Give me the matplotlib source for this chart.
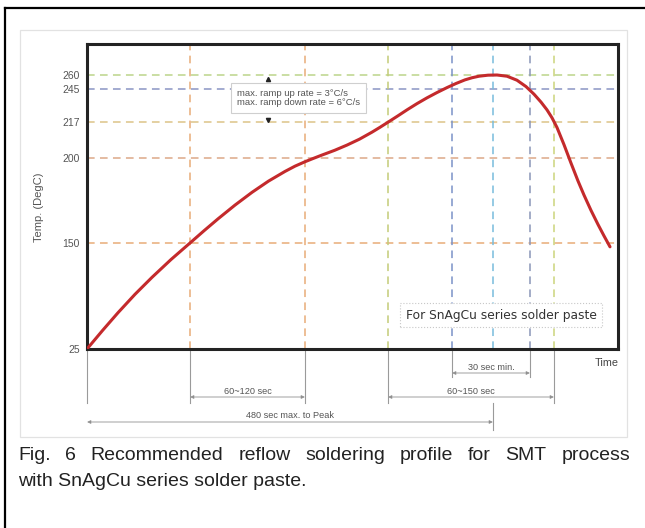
import numpy as np
import matplotlib
matplotlib.use('Agg')
import matplotlib.pyplot as plt
from matplotlib.lines import Line2D
from matplotlib.patches import Rectangle
from matplotlib import transforms

# temperature axis (schematic, not linear) : tick values and where they sit
tick_temps = [25, 150, 200, 217, 245, 260]
scale_t = [25, 150, 200, 217, 245, 260, 300]
scale_p = [0, 106, 191, 227, 260, 274, 311]

# reflow profile (time in arbitrary units, temp in degC)
time_pts = [0, 15.5, 31, 48, 65, 84, 103, 117, 131, 148, 165, 181.5, 198, 208, 218,
            226.5, 235, 247.5, 260, 272.5, 285, 293, 301, 310.5, 320, 330, 340, 350,
            360, 369, 378, 385, 392, 401, 410, 420, 430, 439, 447, 454, 460, 465, 470,
            477, 484, 491, 497, 504, 511, 517, 523]
temp_pts = [25, 46.8, 67.8, 89.5, 109.5, 130.5, 150, 157.2, 164.2, 172.3, 179.8, 186.4,
            192.1, 195.2, 197.8, 199.8, 201.4, 203.6, 206.1, 208.9, 212.2, 214.5, 216.9,
            222.0, 227.3, 232.6, 237.5, 242.0, 246.5, 250.9, 254.8, 257.05, 258.7, 259.8,
            260, 258.7, 254.4, 247.6, 240.6, 233.9, 227.3, 220.6, 214.4, 206.3, 197.0,
            186.5, 178.2, 169.2, 160.9, 154.2, 145.5]

# dashed guide lines
h_temps = [260, 245, 217, 200, 150]
h_colors = ['#bcd48a', '#8a94c4', '#dcc488', '#dca888', '#e8ac78']
v_times = [103, 218, 301, 365, 406, 443, 467]
v_colors = ['#e8ac78', '#e8ac78', '#c4cc78', '#7a92c8', '#78bcdc', '#8a96b8', '#ccd47c']

# brackets under the time axis
brackets = [(365, 443, '30 sec min.'), (103, 218, '60~120 sec'),
            (301, 467, '60~150 sec'), (0, 406, '480 sec max. to Peak')]

caption1 = 'Fig. 6 Recommended reflow soldering profile for SMT process'
caption2 = 'with SnAgCu series solder paste.'

W, H = 645, 528
fig = plt.figure(figsize=(W / 100, H / 100), dpi=100)
fig.patch.set_facecolor('white')


def fx(px):
    return px / W


def fy(py):
    return 1 - py / H


# frames
fig.add_artist(Line2D([fx(5), fx(5)], [fy(8), 0], color='black', lw=1.6))
fig.add_artist(Line2D([fx(5), 1], [fy(8), fy(8)], color='black', lw=1.6))
fig.add_artist(Rectangle((fx(20), fy(437)), fx(627) - fx(20), fy(30) - fy(437),
                         transform=fig.transFigure, fill=False, ec='#e2e2e2', lw=0.9))

ax = fig.add_axes([fx(87), fy(349), fx(618) - fx(87), fy(44) - fy(349)])


def fwd(t):
    return np.interp(t, scale_t, scale_p)


def inv(p):
    return np.interp(p, scale_p, scale_t)


ax.set_yscale('function', functions=(fwd, inv))
ax.set_xlim(0, 531)
ax.set_ylim(25, inv(305))

for t, c in zip(h_temps, h_colors):
    ax.axhline(t, color=c, lw=1.1, ls=(0, (5, 3.5)), zorder=1)
for x, c in zip(v_times, v_colors):
    ax.axvline(x, color=c, lw=1.1, ls=(0, (5, 3.5)), zorder=1)

ax.plot(time_pts, temp_pts, color='#c42a2c', lw=2.2, solid_capstyle='round',
        solid_joinstyle='round', zorder=3)

# little ramp markers
ax.plot([181], [255.7], marker='^', ms=3, color='#222', zorder=4)
ax.plot([181], [218.6], marker='v', ms=3, color='#222', zorder=4)

ax.set_yticks(tick_temps)
ax.set_yticklabels([str(t) for t in tick_temps], fontsize=7.5, color='#555',
                   family='Liberation Sans')
ax.tick_params(axis='y', length=0, pad=5)
ax.set_xticks([])
for s in ax.spines.values():
    s.set_linewidth(2.2)
    s.set_color('#232323')

fig.text(fx(39), fy(207), 'Temp. (DegC)', rotation=90, ha='center', va='center',
         fontsize=8, color='#555', family='Liberation Sans')
fig.text(fx(607), fy(363), 'Time', ha='center', va='center', fontsize=7.8,
         color='#444', family='Liberation Sans')

fig.text(fx(237), fy(98), 'max. ramp up rate = 3°C/s\nmax. ramp down rate = 6°C/s',
         ha='left', va='center', fontsize=6.8, color='#555', linespacing=1.1,
         family='Liberation Sans',
         bbox=dict(boxstyle='square,pad=0.6', fc='white', ec='#cfcfcf', lw=0.8))

fig.text(fx(501), fy(315), 'For SnAgCu series solder paste', ha='center', va='center',
         fontsize=8.8, color='#333', family='DejaVu Sans',
         bbox=dict(boxstyle='square,pad=0.45', fc='white', ec='#c8c8c8', lw=0.8, ls=':'))

# extension lines below the axis
trans = transforms.blended_transform_factory(ax.transData, fig.transFigure)
ext = [(0, 349, 403), (103, 349, 403), (218, 349, 403), (301, 349, 403),
       (365, 349, 377), (443, 349, 377), (467, 349, 403), (406, 403, 430)]
for x, y0, y1 in ext:
    ax.plot([x, x], [fy(y0), fy(y1)], transform=trans, color='#9a9a9a', lw=0.8,
            clip_on=False)

bracket_y = [373, 397, 397, 422]
for (x0, x1, label), by in zip(brackets, bracket_y):
    ax.annotate('', xy=(x1, fy(by)), xytext=(x0, fy(by)), xycoords=trans, textcoords=trans,
                arrowprops=dict(arrowstyle='<|-|>', ec='#a0a0a0', fc='#333', lw=0.7,
                                mutation_scale=5, shrinkA=0, shrinkB=0))
    ax.text((x0 + x1) / 2, fy(by - 6), label, transform=trans, ha='center', va='center',
            fontsize=6.6, color='#555', family='Liberation Sans')

# caption, first line justified
fig.canvas.draw()
renderer = fig.canvas.get_renderer()
words = caption1.split()
arts = [fig.text(0, fy(456), w, fontsize=14, family='Liberation Sans', color='#222',
                 va='center', ha='left') for w in words]
widths = [a.get_window_extent(renderer).width for a in arts]
gap = (630 - 18 - sum(widths)) / (len(words) - 1)
xpos = 18
for a, w in zip(arts, widths):
    a.set_x(fx(xpos))
    xpos += w + gap
fig.text(fx(18), fy(481), caption2, fontsize=14, family='Liberation Sans', color='#222',
         va='center', ha='left')

fig.savefig('out.png', dpi=100)
